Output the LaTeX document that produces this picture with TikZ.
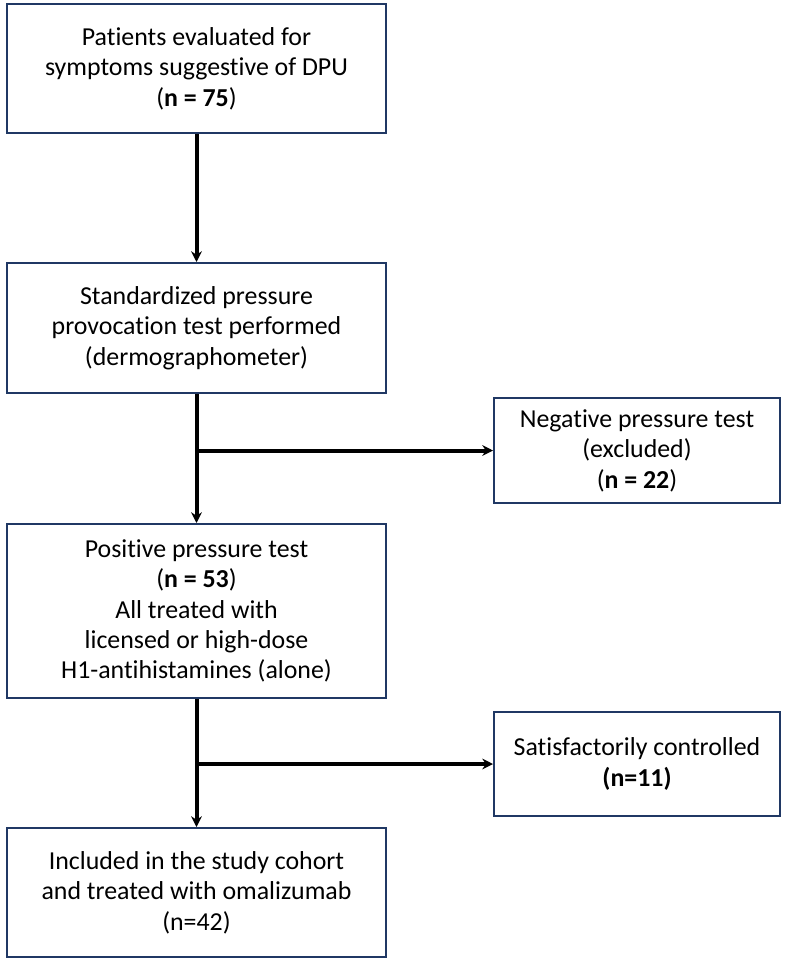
\documentclass[tikz,border=0pt]{standalone}
\usepackage{fontspec}
\setmainfont[Ligatures=NoCommon]{Carlito}
\usepackage{xcolor}
\usetikzlibrary{arrows.meta}
\tikzset{>={Stealth[length=8pt,width=8pt]}}
\definecolor{boxblue}{RGB}{32,56,100}

\begin{document}
\begin{tikzpicture}[x=0.75pt, y=-0.75pt, font=\fontsize{19.4}{22.8}\selectfont]

  \tikzset{box/.style={draw=boxblue, line width=1.5pt, align=center, inner sep=0pt, minimum width=284pt},
           side/.style={box, minimum width=214.5pt},
           flow/.style={->, line width=3pt}}

  \useasboundingbox (0,0) rectangle (786,964);

  % main column
  \node[box, minimum height=96.75pt] (b1) at (196.5,68.5)
    {Patients evaluated for\\ symptoms suggestive of DPU\\ (\textbf{n = 75})};
  \node[box, minimum height=97.5pt] (b2) at (196.5,328)
    {Standardized pressure\\ provocation test performed\\ (dermographometer)};
  \node[box, minimum height=130.5pt] (b4) at (196.5,611)
    {Positive pressure test\\ (\textbf{n = 53})\\ All treated with\\ licensed or high-dose\\ H1-antihistamines (alone)};
  \node[box, minimum height=96.75pt] (b6) at (196.5,892.5)
    {Included in the study cohort\\ and treated with omalizumab\\ (n=42)};

  % side boxes
  \node[side, minimum height=78.75pt] (b3) at (637,450.5)
    {Negative pressure test\\ (excluded)\\ (\textbf{n = 22})};
  \node[side, minimum height=78pt] (b5) at (637,764)
    {Satisfactorily controlled\\ \textbf{(n=11)}};

  % arrows
  \draw[flow] (b1.south) -- (b2.north);
  \foreach \a/\b/\s in {b2/b4/b3, b4/b6/b5} {
    \draw[flow] (\a.south) -- (\b.north);
    \draw[flow] (\a.south |- \s.west) -- (\s.west);
  }

\end{tikzpicture}
\end{document}
